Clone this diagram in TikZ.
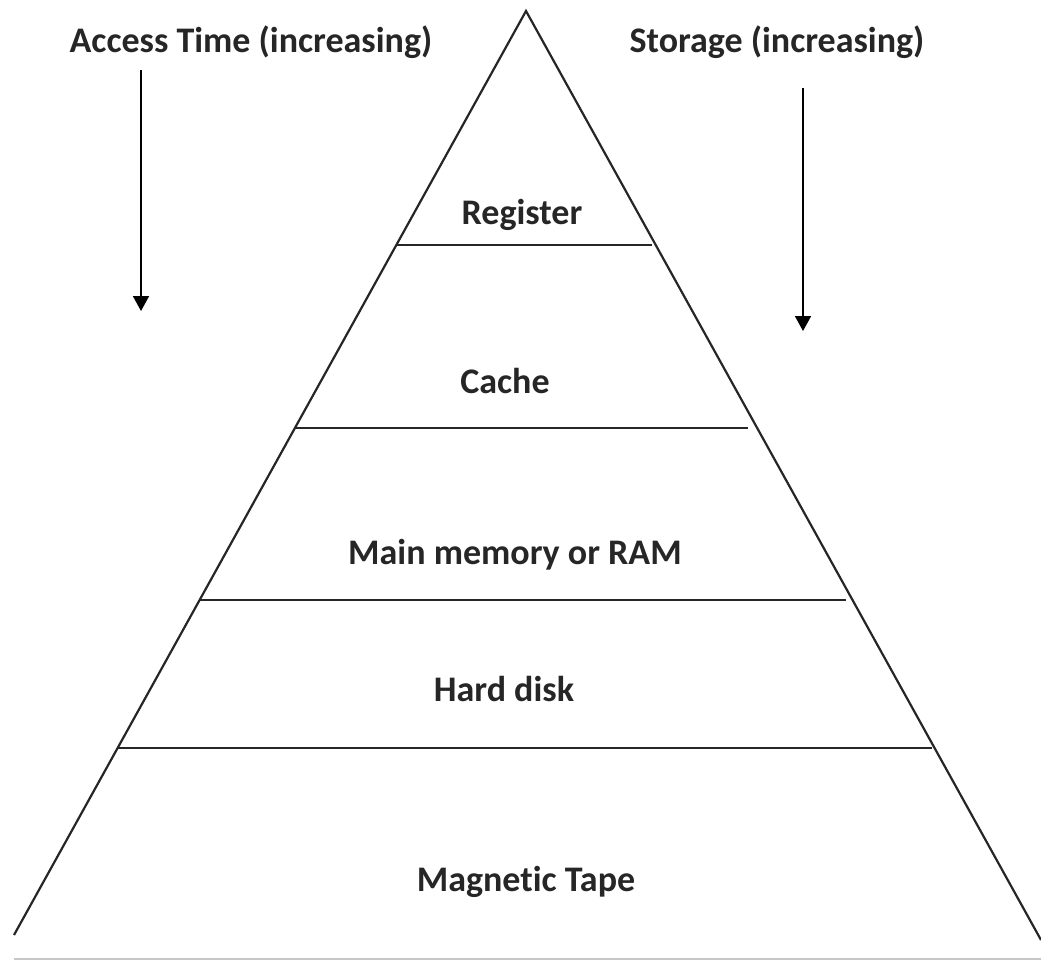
\documentclass[tikz,border=0pt]{standalone}
\usepackage{fontspec}
\setmainfont{Carlito}[Ligatures=NoCommon]
\usetikzlibrary{arrows.meta}
\begin{document}
\begin{tikzpicture}[x=1pt,y=-1pt,
  edge/.style={line width=2.2pt,draw=black!85},
  label/.style={font=\fontsize{36}{42}\selectfont\bfseries,text=black!85,inner sep=0pt,anchor=base},
  trend/.style={line width=1.8pt,draw=black,-{Triangle[width=16pt,length=15pt]}}]
\useasboundingbox (0,0) rectangle (1041,960);
% pyramid outline
\coordinate (apex) at (526,11);
\coordinate (bl) at (14,935);
\coordinate (br) at (1041,940);
\draw[edge,line join=miter] (bl) -- (apex) -- (br);
% level dividers
\coordinate (r1l) at (396,245); \coordinate (r1r) at (652,245);
\coordinate (r2l) at (294,428); \coordinate (r2r) at (748,428);
\coordinate (r3l) at (199,600); \coordinate (r3r) at (846,600);
\coordinate (r4l) at (117,748); \coordinate (r4r) at (932,748);
\draw[edge] (r1l) -- (r1r);
\draw[edge] (r2l) -- (r2r);
\draw[edge] (r3l) -- (r3r);
\draw[edge] (r4l) -- (r4r);
% bottom rule
\coordinate (gl) at (14,959); \coordinate (gr) at (1041,959);
\draw[line width=1.5pt,draw=black!22] (gl) -- (gr);
% level names
\node[label] (reg) at (522,225) {Register};
\node[label] (cache) at (505,393) {Cache};
\node[label] (ram) at (515,564) {Main memory or RAM};
\node[label] (hdd) at (504,701) {Hard disk};
\node[label] (tape) at (526,891) {Magnetic Tape};
% trend labels and arrows
\node[label] (acc) at (251,53) {Access Time (increasing)};
\node[label] (sto) at (777,53) {Storage (increasing)};
\coordinate (a1) at (141,70); \coordinate (a2) at (141,311);
\coordinate (s1) at (803,88); \coordinate (s2) at (803,331);
\draw[trend] (a1) -- (a2);
\draw[trend] (s1) -- (s2);
\end{tikzpicture}
\end{document}
